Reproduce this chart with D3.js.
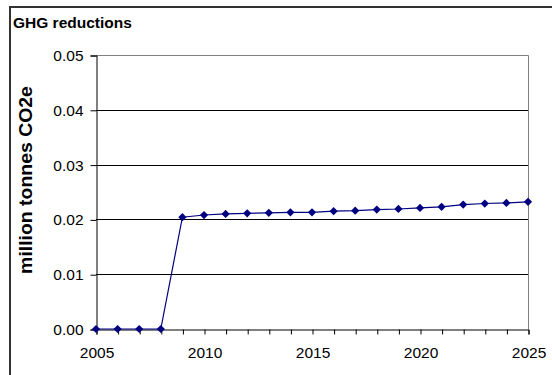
<!DOCTYPE html>
<html>
<head>
<meta charset="utf-8">
<script src="https://cdn.jsdelivr.net/npm/d3@7"></script>
<style>
  html, body { margin: 0; padding: 0; background: #fff; }
  svg { display: block; font-family: "Liberation Sans", Arial, sans-serif; }
</style>
</head>
<body>
<svg id="chart" width="552" height="375"></svg>
<script>
(function () {
    // years on the x axis
    const years = [2005, 2006, 2007, 2008, 2009, 2010, 2011, 2012, 2013, 2014,
                   2015, 2016, 2017, 2018, 2019, 2020, 2021, 2022, 2023, 2024, 2025];
    // GHG reductions, million tonnes CO2e
    const reductions = [0, 0, 0, 0, 0.0204, 0.0208, 0.0210, 0.0211, 0.0212, 0.0213,
                        0.0213, 0.0215, 0.0216, 0.0218, 0.0219, 0.0221, 0.0223, 0.0227, 0.0229, 0.0230, 0.0232];
    const yTicks = [0, 0.01, 0.02, 0.03, 0.04, 0.05];
    const xLabels = [2005, 2010, 2015, 2020, 2025];

    const svg = d3.select('#chart');
    const plot = { left: 96, top: 55, right: 528, bottom: 329 };

    const x = d3.scaleLinear().domain([2005, 2025]).range([plot.left, plot.right]);
    const y = d3.scaleLinear().domain([0, 0.05]).range([plot.bottom, plot.top]);

    // outer chart frame (only top and left edges show)
    svg.append('path')
        .attr('d', 'M10,375 L10,7 L552,7')
        .attr('fill', 'none')
        .attr('stroke', '#333')
        .attr('stroke-width', 2);

    // title
    svg.append('text')
        .attr('x', 13).attr('y', 28)
        .attr('font-size', 15.5)
        .attr('font-weight', 'bold')
        .text('GHG reductions');

    // y axis label (slightly stretched along its length, like the original)
    svg.append('text')
        .attr('transform', 'translate(31.5,180) rotate(-90) scale(1.08,1)')
        .attr('text-anchor', 'middle')
        .attr('font-size', 18)
        .attr('font-weight', 'bold')
        .text('million tonnes CO2e');

    // plot area border (top/right grey)
    svg.append('path')
        .attr('d', `M${plot.left},${plot.top + 0.5} L${plot.right + 0.5},${plot.top + 0.5} L${plot.right + 0.5},${plot.bottom}`)
        .attr('fill', 'none')
        .attr('stroke', '#808080')
        .attr('stroke-width', 1);

    // gridlines
    svg.append('g')
        .selectAll('line')
        .data(yTicks.filter(d => d > 0 && d < 0.05))
        .join('line')
        .attr('x1', plot.left).attr('x2', plot.right)
        .attr('y1', d => Math.round(y(d)) + 0.5).attr('y2', d => Math.round(y(d)) + 0.5)
        .attr('stroke', '#000')
        .attr('stroke-width', 1);

    // y axis
    const yAxis = svg.append('g')
        .attr('transform', `translate(${plot.left + 0.5},0.5)`)
        .call(d3.axisLeft(y).tickValues(yTicks).tickFormat(d3.format('.2f')).tickSize(6).tickPadding(7));
    yAxis.select('.domain').attr('stroke', '#000');
    yAxis.selectAll('.tick line').attr('stroke', '#000');
    yAxis.selectAll('text').attr('font-size', 15.5).attr('font-family', '"Liberation Sans", Arial, sans-serif').attr('fill', '#000');

    // x axis: ticks every year, labels every 5
    const xAxis = svg.append('g')
        .attr('transform', `translate(0.5,${plot.bottom + 0.5})`)
        .call(d3.axisBottom(x).tickValues(years).tickSizeOuter(0).tickSize(5).tickPadding(12)
            .tickFormat(d => xLabels.includes(d) ? d : ''));
    xAxis.select('.domain').attr('stroke', '#000');
    xAxis.selectAll('.tick line').attr('stroke', '#000');
    xAxis.selectAll('text').attr('font-size', 15.5).attr('font-family', '"Liberation Sans", Arial, sans-serif').attr('fill', '#000');

    // series line
    const line = d3.line()
        .x((d, i) => x(years[i]))
        .y(d => y(d));
    svg.append('path')
        .datum(reductions)
        .attr('d', line)
        .attr('fill', 'none')
        .attr('stroke', '#000080')
        .attr('stroke-width', 1.2);

    // diamond markers
    const diamond = d3.symbol().type(d3.symbolSquare).size(34);
    svg.append('g')
        .selectAll('path')
        .data(reductions)
        .join('path')
        .attr('d', diamond)
        .attr('transform', (d, i) => `translate(${x(years[i])},${y(d)}) rotate(45)`)
        .attr('fill', '#000080');
})();
</script>
</body>
</html>
